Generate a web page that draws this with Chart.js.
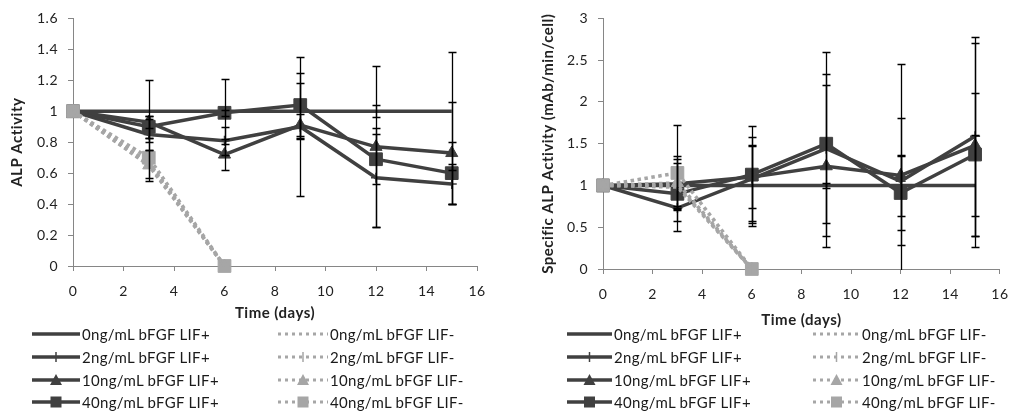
<!DOCTYPE html>
<html>
<head>
<meta charset="utf-8">
<script src="https://cdn.jsdelivr.net/npm/chart.js@4.4.1/dist/chart.umd.min.js"></script>
<style>
  html, body { margin: 0; padding: 0; background: #fff; }
  #page { position: relative; width: 1020px; height: 414px; overflow: hidden; font-family: Lato, sans-serif; }
  .chart-box { position: absolute; top: 0; width: 510px; height: 335px; }
  .legend-item { position: absolute; height: 20px; display: flex; align-items: center; white-space: nowrap;
                 font-size: 15px; line-height: 20px; color: #1a1a1a; letter-spacing: 0.3px; z-index: 2; }
  .legend-item canvas { display: block; margin-right: 2px; }
</style>
</head>
<body>
<div id="page">
  <div class="chart-box" style="left:0"><canvas id="alpChart"></canvas></div>
  <div class="chart-box" style="left:510px"><canvas id="specificChart"></canvas></div>
  <div id="legends"></div>
</div>
<script>
// time points (days) for each group
let days = [0, 3, 6, 9, 12, 15];
let daysLifMinus = [0, 3, 6];
let doseLabels = ['0ng/mL bFGF', '2ng/mL bFGF', '10ng/mL bFGF', '40ng/mL bFGF'];

let xTicks = [0, 2, 4, 6, 8, 10, 12, 14, 16];
let alpTicks = [0, 0.2, 0.4, 0.6, 0.8, 1, 1.2, 1.4, 1.6];
let specificTicks = [0, 0.5, 1, 1.5, 2, 2.5, 3];

// ALP activity, rows = 0, 2, 10, 40 ng/mL bFGF
let alpLifPlus = [
  [1, 1, 1, 1, 1, 1],
  [1, 0.85, 0.81, 0.90, 0.57, 0.53],
  [1, 0.93, 0.72, 0.91, 0.77, 0.73],
  [1, 0.90, 0.99, 1.04, 0.69, 0.60]
];
let alpLifPlusErr = [
  [null, 0.20, 0.21, 0.18, 0.04, 0.38],
  [null, 0.10, 0.09, 0.45, 0.32, 0.13],
  [null, 0.04, 0.10, 0.07, 0.52, 0.33],
  [null, 0.07, 0.02, 0.21, 0.16, 0.20]
];
let alpLifMinus = [
  [1, 0.67, 0],
  [1, 0.66, 0],
  [1, 0.65, 0],
  [1, 0.70, 0]
];
let alpLifMinusErr = [
  [null, null, null],
  [null, null, null],
  [null, 0.10, null],
  [null, 0.13, null]
];

// Specific ALP activity (mAb/min/cell)
let specLifPlus = [
  [1, 1, 1, 1, 1, 1],
  [1, 0.73, 1.08, 1.44, 1.05, 1.59],
  [1, 1.02, 1.10, 1.23, 1.12, 1.48],
  [1, 0.90, 1.13, 1.50, 0.91, 1.37]
];
let specLifPlusErr = [
  [null, 0.27, 0.48, 0.03, 0.36, 0.60],
  [null, 0.02, 0.50, 0.89, 0.76, 1.19],
  [null, 0.30, 0.37, 0.97, 1.33, 1.22],
  [null, 0.45, 0.58, 1.10, 0.44, 0.74]
];
let specLifMinus = [
  [1, 0.98, 0],
  [1, 1.00, 0],
  [1, 1.03, 0],
  [1, 1.15, 0]
];
let specLifMinusErr = [
  [null, null, null],
  [null, null, null],
  [null, null, null],
  [null, 0.57, null]
];

let darkGrey = '#404040';
let lightGrey = '#a6a6a6';
let markers = [null, 'cross', 'triangle', 'rect'];
let markerSizes = [0, 5, 7, 9];
let fontFamily = 'Lato, sans-serif';

function buildDatasets(plus, plusErr, minus, minusErr) {
  let sets = [];
  // LIF- first so they are painted on top of the dark lines
  minus.forEach((vals, i) => {
    sets.push({
      label: doseLabels[i] + ' LIF-',
      data: vals.map((v, j) => ({ x: daysLifMinus[j], y: v })),
      errors: minusErr[i],
      borderColor: lightGrey,
      backgroundColor: lightGrey,
      borderWidth: 3.5,
      borderDash: [3.5, 3.5],
      pointStyle: markers[i] || 'circle',
      pointRadius: markerSizes[i],
      pointBorderWidth: markers[i] === 'cross' ? 1.5 : 1,
      pointBorderColor: lightGrey,
      pointBackgroundColor: lightGrey,
      tension: 0,
      clip: false
    });
  });
  plus.forEach((vals, i) => {
    sets.push({
      label: doseLabels[i] + ' LIF+',
      data: vals.map((v, j) => ({ x: days[j], y: v })),
      errors: plusErr[i],
      borderColor: darkGrey,
      backgroundColor: darkGrey,
      borderWidth: 3.5,
      pointStyle: markers[i] || 'circle',
      pointRadius: markerSizes[i],
      pointBorderWidth: markers[i] === 'cross' ? 1.5 : 1,
      pointBorderColor: darkGrey,
      pointBackgroundColor: darkGrey,
      tension: 0,
      clip: false
    });
  });
  return sets;
}

// vertical error bars with caps, clipped to the plot area
let errorBars = {
  id: 'errorBars',
  afterDatasetsDraw(chart) {
    let { ctx, chartArea, scales } = chart;
    ctx.save();
    ctx.beginPath();
    ctx.rect(chartArea.left, chartArea.top, chartArea.right - chartArea.left, chartArea.bottom - chartArea.top + 1);
    ctx.clip();
    ctx.strokeStyle = '#000';
    ctx.lineWidth = 1.3;
    chart.data.datasets.forEach(ds => {
      ds.data.forEach((pt, i) => {
        let e = ds.errors[i];
        if (e == null) return;
        let px = Math.round(scales.x.getPixelForValue(pt.x)) + 0.5;
        let top = Math.round(scales.y.getPixelForValue(pt.y + e)) + 0.5;
        let bot = Math.round(scales.y.getPixelForValue(pt.y - e)) + 0.5;
        ctx.beginPath();
        ctx.moveTo(px, top); ctx.lineTo(px, bot);
        ctx.moveTo(px - 4, top); ctx.lineTo(px + 4, top);
        ctx.moveTo(px - 4, bot); ctx.lineTo(px + 4, bot);
        ctx.stroke();
      });
    });
    ctx.restore();
  }
};

// the Excel text in the picture is a little wider than Lato
let wideText = {
  id: 'wideText',
  beforeDraw(chart) { chart.ctx.letterSpacing = '0.5px'; }
};

function makeChart(canvasId, datasets, yTicks, yTitle, geo) {
  let axisGrey = '#868686';
  return new Chart(document.getElementById(canvasId), {
    type: 'line',
    data: { datasets: datasets },
    plugins: [wideText, errorBars],
    options: {
      responsive: true,
      maintainAspectRatio: false,
      animation: false,
      events: [],
      layout: { padding: { left: 0, top: geo.top, right: geo.right, bottom: 0 } },
      plugins: { legend: { display: false }, tooltip: { enabled: false } },
      scales: {
        x: {
          type: 'linear',
          min: 0, max: 16,
          afterBuildTicks: s => { s.ticks = xTicks.map(v => ({ value: v })); },
          afterFit: s => { s.height = geo.xHeight; },
          ticks: { color: '#222', font: { family: fontFamily, size: 14 }, padding: 12,
                   callback: v => String(v) },
          grid: { drawOnChartArea: false, drawTicks: true, tickLength: 5, color: axisGrey },
          border: { color: axisGrey, width: 1 },
          title: {
            display: true, text: 'Time (days)', color: '#222',
            font: { family: fontFamily, size: 15, weight: 'bold' },
            padding: { top: 0, bottom: geo.xTitlePad }
          }
        },
        y: {
          min: 0, max: yTicks[yTicks.length - 1],
          afterBuildTicks: s => { s.ticks = yTicks.map(v => ({ value: v })); },
          afterFit: s => { s.width = geo.yWidth; },
          ticks: { color: '#222', font: { family: fontFamily, size: 14 }, padding: 10,
                   callback: v => String(+v.toFixed(2)) },
          grid: { drawOnChartArea: false, drawTicks: true, tickLength: 5, color: axisGrey },
          border: { color: axisGrey, width: 1 },
          title: {
            display: true, text: yTitle, color: '#222',
            font: { family: fontFamily, size: 15, weight: 'bold' },
            padding: { top: geo.yTitlePad, bottom: 0 }
          }
        }
      }
    }
  });
}

makeChart('alpChart',
  buildDatasets(alpLifPlus, alpLifPlusErr, alpLifMinus, alpLifMinusErr),
  alpTicks, 'ALP Activity',
  { top: 13, right: 33, xHeight: 69, yWidth: 73, xTitlePad: 13, yTitlePad: 8 });

makeChart('specificChart',
  buildDatasets(specLifPlus, specLifPlusErr, specLifMinus, specLifMinusErr),
  specificTicks, 'Specific ALP Activity (mAb/min/cell)',
  { top: 15, right: 11, xHeight: 66, yWidth: 93, xTitlePad: 6, yTitlePad: 29 });

// legend: line sample with marker, then the series name
function drawSwatch(canvas, color, dotted, marker) {
  let c = canvas.getContext('2d');
  let mid = canvas.height / 2;
  c.strokeStyle = color;
  c.fillStyle = color;
  c.lineWidth = dotted ? 3 : 3.5;
  if (dotted) c.setLineDash([3, 4]);
  c.beginPath(); c.moveTo(0, mid); c.lineTo(canvas.width, mid); c.stroke();
  c.setLineDash([]);
  let cx = canvas.width / 2;
  if (marker === 'rect') {
    c.fillRect(cx - 5.5, mid - 5.5, 11, 11);
  } else if (marker === 'triangle') {
    c.beginPath(); c.moveTo(cx, mid - 6); c.lineTo(cx + 6, mid + 5); c.lineTo(cx - 6, mid + 5); c.closePath(); c.fill();
  } else if (marker === 'cross') {
    c.lineWidth = 1.5;
    c.beginPath(); c.moveTo(cx, mid - 5); c.lineTo(cx, mid + 5); c.stroke();
  }
}

let legendRows = [334, 357, 380, 402];
let legendLayouts = [
  { plusX: 32, plusW: 48, minusX: 278, minusW: 50 },
  { plusX: 567, plusW: 45, minusX: 813, minusW: 47 }
];
let legendBox = document.getElementById('legends');
legendLayouts.forEach(lay => {
  doseLabels.forEach((dose, i) => {
    [['LIF+', lay.plusX, lay.plusW, darkGrey, false], ['LIF-', lay.minusX, lay.minusW, lightGrey, true]].forEach(g => {
      let item = document.createElement('div');
      item.className = 'legend-item';
      item.style.left = g[1] + 'px';
      item.style.top = (legendRows[i] - 10) + 'px';
      let sw = document.createElement('canvas');
      sw.width = g[2]; sw.height = 20;
      drawSwatch(sw, g[3], g[4], markers[i]);
      item.appendChild(sw);
      let txt = document.createElement('span');
      txt.textContent = dose + ' ' + g[0];
      item.appendChild(txt);
      legendBox.appendChild(item);
    });
  });
});
</script>
</body>
</html>
